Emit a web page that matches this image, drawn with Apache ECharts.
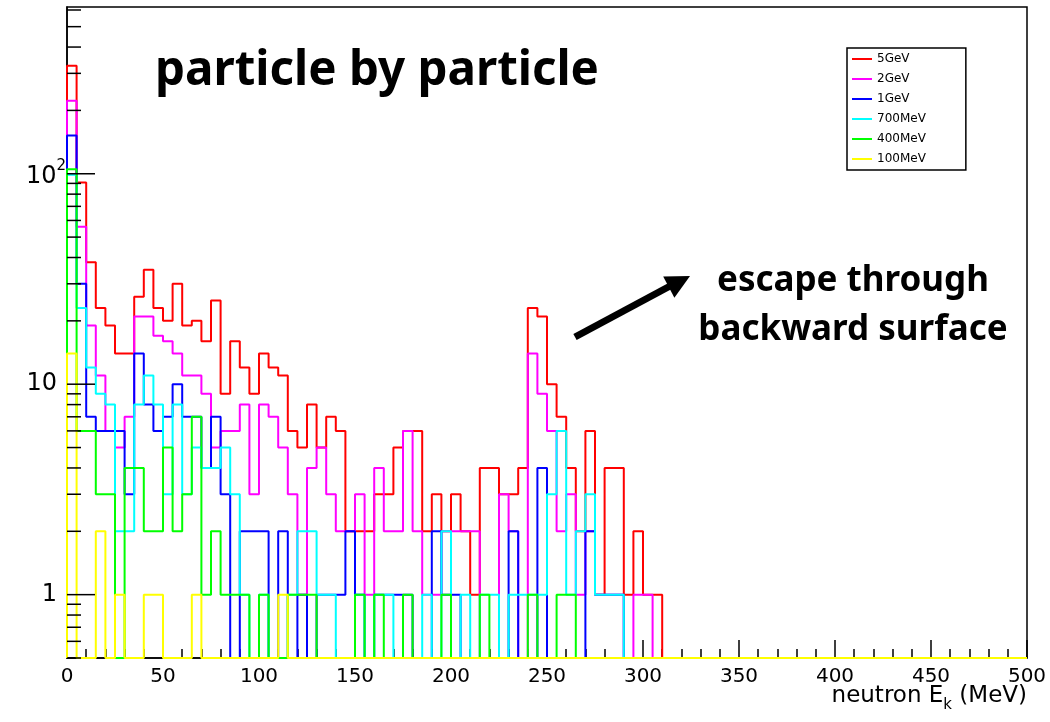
<!DOCTYPE html>
<html>
<head>
<meta charset="utf-8">
<script src="https://cdn.jsdelivr.net/npm/echarts@6/dist/echarts.min.js"></script>
<style>
html,body{margin:0;padding:0;background:#fff;}
#chart{width:1050px;height:722px;}
</style>
</head>
<body>
<div id="chart"></div>
<script>
// ---------------- data ----------------
const binWidth = 5;          // MeV per bin
const nBins = 100;           // 0 .. 500 MeV
const xTickLabels = [0, 50, 100, 150, 200, 250, 300, 350, 400, 450, 500];
const yLabelValues = [1, 10, 100];
const seriesNames = ['5GeV', '2GeV', '1GeV', '700MeV', '400MeV', '100MeV'];

// counts per 5 MeV bin, starting at 0 MeV (bins after the list are empty)
const counts5GeV = [326, 91, 38, 23, 19, 14, 14, 26, 35, 23, 20, 30, 19, 20, 16, 25, 9, 16, 12, 9,
  14, 12, 11, 6, 5, 8, 5, 7, 6, 2, 2, 2, 3, 3, 5, 6, 6, 2, 3, 2,
  3, 2, 1, 4, 4, 3, 3, 4, 23, 21, 10, 7, 4, 2, 6, 1, 4, 4, 1, 2,
  1, 1];
const counts2GeV = [222, 56, 19, 11, 6, 5, 7, 21, 21, 17, 16, 14, 11, 11, 9, 5, 6, 6, 8, 3,
  8, 7, 5, 3, 1, 4, 5, 3, 2, 2, 3, 1, 4, 2, 2, 6, 2, 1, 1, 2,
  2, 2, 2, 0, 0, 3, 2, 0, 14, 9, 6, 2, 3, 1, 2, 1, 1, 1, 0, 1,
  1];
const counts1GeV = [152, 30, 7, 6, 6, 6, 3, 14, 8, 6, 7, 10, 7, 7, 4, 7, 3, 0, 2, 2,
  2, 0, 2, 0, 1, 0, 1, 1, 1, 2, 1, 0, 1, 1, 1, 1, 0, 0, 2, 1,
  1, 0, 0, 0, 0, 0, 2, 0, 0, 4, 0, 0, 0, 0, 2, 1, 1, 1];
const counts700MeV = [99, 23, 12, 9, 8, 2, 2, 8, 11, 8, 3, 8, 3, 5, 4, 4, 5, 3, 1, 0,
  1, 0, 0, 1, 2, 2, 1, 1, 0, 0, 1, 0, 1, 1, 0, 0, 0, 1, 0, 2,
  0, 1, 0, 1, 1, 0, 1, 1, 1, 1, 3, 6, 1, 2, 3, 1, 1, 1];
const counts400MeV = [105, 6, 6, 3, 3, 0, 4, 4, 2, 2, 5, 2, 3, 7, 1, 2, 1, 1, 1, 0,
  1, 0, 0, 1, 1, 1, 0, 0, 0, 0, 1, 0, 1, 0, 0, 1, 0, 0, 0, 1,
  0, 0, 0, 1, 0, 0, 0, 0, 1, 0, 0, 1, 1];
const counts100MeV = [14, 0, 0, 2, 0, 1, 0, 0, 1, 1, 0, 0, 0, 1, 0, 0, 0, 0, 0, 0,
  0, 0, 1];

// ---------------- styling ----------------
const Y_MIN = 0.5, Y_MAX = 620;
const colors = ['#ff0000', '#ff00ff', '#0000ff', '#00ffff', '#00ff00', '#ffff00'];
const allCounts = [counts5GeV, counts2GeV, counts1GeV, counts700MeV, counts400MeV, counts100MeV];

function stepPoints(counts) {
  const pts = [[0, Y_MIN]];
  for (let i = 0; i < nBins; i++) {
    const v = i < counts.length ? counts[i] : 0;
    const y = v > 0 ? v : Y_MIN;
    pts.push([i * binWidth, y], [(i + 1) * binWidth, y]);
  }
  pts.push([nBins * binWidth, Y_MIN]);
  return pts;
}

// log-axis tick positions (1..9 x decades) inside the range
const yTickData = [];
for (let k = -1; k <= 2; k++) {
  for (let m = 1; m <= 9; m++) {
    const v = m * Math.pow(10, k);
    if (v >= Y_MIN - 1e-9 && v <= Y_MAX) yTickData.push([0, v, m === 1 ? 1 : 0]);
  }
}

const FONT = '"DejaVu Sans", "Liberation Sans", sans-serif';
const BOLD_FONT = '"Noto Sans", "Open Sans", sans-serif';

const histSeries = seriesNames.map((name, i) => ({
  name: name,
  type: 'line',
  data: stepPoints(allCounts[i]),
  showSymbol: false,
  symbol: 'none',
  clip: false,
  color: colors[i],
  lineStyle: { width: 2, color: colors[i] },
  animation: false,
  z: 2 + i * 0.01
}));

const tickSeries = {
  type: 'custom',
  name: 'yticks',
  data: yTickData,
  encode: { x: 0, y: 1 },
  silent: true,
  animation: false,
  z: 5,
  renderItem: function (params, api) {
    const p = api.coord([0, api.value(1)]);
    const len = api.value(2) === 1 ? 28 : 14;
    return {
      type: 'line',
      shape: { x1: p[0], y1: p[1], x2: p[0] + len, y2: p[1] },
      style: { stroke: '#000', lineWidth: 1.5 }
    };
  }
};

const chart = echarts.init(document.getElementById('chart'), null, { renderer: 'canvas' });

chart.setOption({
  backgroundColor: '#fff',
  animation: false,
  grid: {
    left: 67, top: 7, width: 960, height: 651,
    show: true, borderColor: '#000', borderWidth: 1.5, backgroundColor: 'transparent'
  },
  xAxis: {
    type: 'value', min: 0, max: 500, interval: 50,
    axisLine: { show: true, lineStyle: { color: '#000', width: 1.5 } },
    axisTick: { show: true, inside: true, length: 18, lineStyle: { color: '#000', width: 1.5 } },
    minorTick: { show: true, splitNumber: 5, length: 9, lineStyle: { color: '#000', width: 1.5 } },
    splitLine: { show: false },
    axisLabel: {
      color: '#000', fontSize: 20, fontFamily: FONT, margin: 9,
      formatter: function (v) { return xTickLabels.indexOf(v) >= 0 ? String(v) : ''; }
    }
  },
  yAxis: {
    type: 'log', logBase: 10, min: Y_MIN, max: Y_MAX,
    axisLine: { show: true, lineStyle: { color: '#000', width: 1.5 } },
    axisTick: { show: false },
    splitLine: { show: false },
    axisLabel: {
      color: '#000', fontFamily: FONT, margin: 1,
      formatter: function (v) {
        for (const t of yLabelValues) {
          if (Math.abs(v - t) / t < 1e-6) {
            if (t === 100) return '{b|10}{s|2}';
            return '{n|' + t + '}{sp|}';
          }
        }
        return '';
      },
      rich: {
        n: { fontSize: 24, fontFamily: FONT, color: '#000', verticalAlign: 'middle' },
        b: { fontSize: 24, fontFamily: FONT, color: '#000', verticalAlign: 'top', padding: [7, 0, 0, 0] },
        s: { fontSize: 15, fontFamily: FONT, color: '#000', verticalAlign: 'top', padding: [0, 0, 0, 0] },
        sp: { width: 9 }
      }
    }
  },
  legend: {
    data: seriesNames,
    orient: 'vertical',
    left: 847, top: 48,
    icon: 'rect', itemWidth: 20, itemHeight: 2, itemGap: 6,
    padding: [4, 40, 4, 5],
    borderColor: '#000', borderWidth: 1.5, backgroundColor: '#fff',
    textStyle: { color: '#000', fontSize: 12, fontFamily: FONT, lineHeight: 14 },
    selectedMode: false
  },
  series: histSeries.concat([tickSeries]),
  graphic: [
    {
      type: 'text', left: 155, top: 47, z: 10,
      style: { text: 'particle by particle', fontSize: 47.5, fontWeight: 'bold', fontFamily: BOLD_FONT, fill: '#000' }
    },
    {
      type: 'text', z: 10,
      style: {
        x: 853, y: 257, text: 'escape through\nbackward surface', align: 'center', verticalAlign: 'top',
        fontSize: 35, fontWeight: 'bold', lineHeight: 49, fontFamily: BOLD_FONT, fill: '#000'
      }
    },
    {
      type: 'line', z: 10,
      shape: { x1: 575, y1: 337, x2: 672, y2: 285 },
      style: { stroke: '#000', lineWidth: 7 }
    },
    {
      type: 'polygon', z: 10,
      shape: { points: [[690, 276], [674.4, 297.8], [663.2, 276.6]] },
      style: { fill: '#000' }
    },
    {
      type: 'text', z: 10,
      style: {
        x: 1027, y: 699, align: 'right', verticalAlign: 'middle',
        text: '{a|neutron E}{k|k}{a| (MeV)}',
        rich: {
          a: { fontSize: 23, fontFamily: FONT, fill: '#000', verticalAlign: 'top' },
          k: { fontSize: 15, fontFamily: FONT, fill: '#000', verticalAlign: 'top', padding: [13, 0, 0, 0] }
        }
      }
    }
  ]
});
</script>
</body>
</html>
